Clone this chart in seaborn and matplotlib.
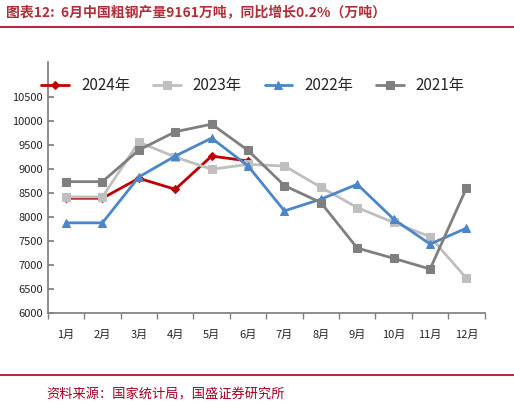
import matplotlib
matplotlib.use("Agg")
import matplotlib.pyplot as plt
import seaborn as sns
import pandas as pd
import numpy as np

months = ["1月", "2月", "3月", "4月", "5月", "6月", "7月", "8月", "9月", "10月", "11月", "12月"]
y2024 = [8394, 8394, 8810, 8581, 9273, 9170]
y2023 = [8422, 8422, 9564, 9253, 8997, 9100, 9066, 8623, 8200, 7889, 7592, 6727]
y2022 = [7882, 7882, 8837, 9273, 9647, 9066, 8131, 8374, 8685, 7958, 7439, 7772]
y2021 = [8740, 8740, 9398, 9779, 9938, 9391, 8657, 8304, 7356, 7142, 6920, 8609]

series = [("2024年", y2024, "#C00000", "D", 4),
          ("2023年", y2023, "#BFBFBF", "s", 6),
          ("2022年", y2022, "#4A86C8", "^", 6),
          ("2021年", y2021, "#7F7F7F", "s", 6)]

sns.set_theme(style="white")
plt.rcParams["font.family"] = ["Noto Sans CJK SC", "DejaVu Sans"]

fig = plt.figure(figsize=(5.14, 4.17), dpi=100)
ax = fig.add_axes([0.093, 0.249, 0.85, 0.602])

rows = []
for name, vals, _, _, _ in series:
    for i, v in enumerate(vals):
        rows.append({"month": i, "value": v, "year": name})
df = pd.DataFrame(rows)

for name, vals, color, marker, ms in series:
    sub = df[df["year"] == name]
    sns.lineplot(data=sub, x="month", y="value", ax=ax, color=color, marker=marker,
                 markersize=ms, markeredgecolor=color, linewidth=2, label=name)

ax.set_xlim(-0.5, 11.5)
ax.set_ylim(6000, 11230)
ax.set_yticks(np.arange(6000, 10501, 500))
ax.set_xticks(range(12))
ax.set_xticklabels(months)
ax.set_xticks(np.arange(-0.5, 12, 1), minor=True)
ax.tick_params(axis="x", which="major", length=0, labelsize=8, pad=12)
ax.tick_params(axis="x", which="minor", length=4, color="#808080", direction="out", bottom=True)
ax.tick_params(axis="y", labelsize=8, length=4, color="#808080", direction="in", left=True)
ax.set_xlabel("")
ax.set_ylabel("")
for s in ["top", "right"]:
    ax.spines[s].set_visible(False)
for s in ["left", "bottom"]:
    ax.spines[s].set_color("#808080")
ax.legend(loc="center", bbox_to_anchor=(0.47, 0.905), ncol=4, frameon=False,
          fontsize=11, handlelength=1.8, columnspacing=1.5)

fig.text(0.012, 0.968, "图表12:  6月中国粗钢产量9161万吨，同比增长0.2%（万吨）",
         color="#B0303A", fontsize=10, style="italic", fontweight="bold", va="center")
fig.add_artist(plt.Line2D([0.0, 1.0], [0.935, 0.935], color="#A50021", lw=1.2))
fig.add_artist(plt.Line2D([0.0, 1.0], [0.1, 0.1], color="#A50021", lw=1.2))
fig.text(0.09, 0.052, "资料来源：国家统计局，国盛证券研究所", color="#A50021",
         fontsize=9.5, style="italic", va="center")

fig.savefig("out.png", dpi=100, facecolor="white")
